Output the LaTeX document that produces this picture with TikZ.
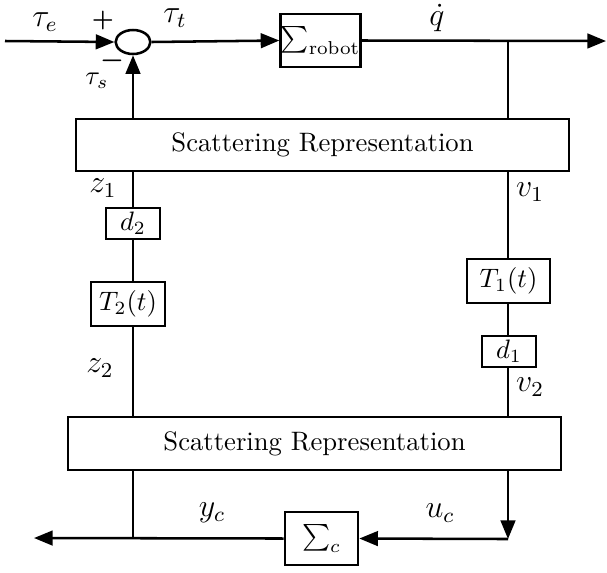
\documentclass[tikz,border=0pt]{standalone}
\usepackage{amsmath,amssymb}
\usepackage{tikz}
\usetikzlibrary{arrows.meta,shapes.geometric}
\tikzset{
  sarrow/.style={-{Triangle[length=7pt,width=5.5pt]}, line width=0.95pt},
  sline/.style={line width=0.95pt},
  blk/.style={draw, line width=0.95pt, inner sep=0pt, minimum width=#1},
  lbl/.style={font=\large, inner sep=0pt}
}
\begin{document}
\begin{tikzpicture}[x=0.375pt, y=-0.375pt]
    \useasboundingbox (0,0) rectangle (607,572);
    % blocks
    \node[ellipse, draw, line width=0.95pt, inner sep=0pt, minimum width=13pt, minimum height=9pt] (sum) at (133,42) {};
    \node[blk=28.1pt, minimum height=19.9pt] (robot) at (320.5,40.5) {$\sum_{\mathrm{robot}}$};
    \node[blk=184.9pt, minimum height=19.5pt] (scatup) at (322.5,145) {Scattering Representation};
    \node[blk=20.25pt, minimum height=11.6pt] (dtwo) at (133,223.5) {$d_2$};
    \node[blk=27.75pt, minimum height=16.5pt] (Ttwo) at (128,304) {$T_2(t)$};
    \node[blk=31.1pt, minimum height=16.5pt] (Tone) at (508.5,281) {$T_1(t)$};
    \node[blk=20.25pt, minimum height=11.6pt] (done) at (509,351.5) {$d_1$};
    \node[blk=184.9pt, minimum height=19.9pt] (scatdown) at (314.5,443.5) {Scattering Representation};
    \node[blk=27.4pt, minimum height=19.9pt] (ctrl) at (321.5,538.5) {$\sum_{c}$};
    % free ends
    \coordinate (in) at (5,41);
    \coordinate (out) at (606,41);
    \coordinate (qbr) at (508,41);
    \coordinate (ybr) at (133,538);
    \coordinate (yout) at (34,538);
    \coordinate (ucorner) at (508,539);
    % top loop
    \draw[sarrow] (in) -- (sum.west);
    \draw[sarrow] (sum.east) -- (robot.west);
    \draw[sarrow] (robot.east) -- (out);
    \draw[sline] (qbr) -- (qbr |- scatup.north);
    \draw[sarrow] (sum.south |- scatup.north) -- (sum.south);
    % left channel
    \draw[sline] (dtwo.north |- scatup.south) -- (dtwo.north);
    \draw[sline] (dtwo.south) -- (dtwo.south |- Ttwo.north);
    \draw[sline] (dtwo.south |- Ttwo.south) -- (dtwo.south |- scatdown.north);
    % right channel
    \draw[sline] (qbr |- scatup.south) -- (qbr |- Tone.north);
    \draw[sline] (qbr |- Tone.south) -- (qbr |- done.north);
    \draw[sline] (qbr |- done.south) -- (qbr |- scatdown.north);
    % controller side
    \draw[sarrow] (qbr |- scatdown.south) -- (ucorner);
    \draw[sarrow] (ucorner) -- (ctrl.east);
    \draw[sarrow] (ctrl.west) -- (yout);
    \draw[sline] (ybr) -- (ybr |- scatdown.south);
    % labels
    \node[lbl] (taue) at (45,22) {$\tau_e$};
    \node[inner sep=0pt, font=\small] (plus) at (103,20) {\textbf{+}};
    \node[inner sep=0pt] (minus) at (112,61) {$\boldsymbol{-}$};
    \node[inner sep=0pt] (taus) at (97,81) {$\tau_s$};
    \node[lbl] (taut) at (175,18) {$\tau_t$};
    \node[lbl] (qdot) at (437,18) {$\dot{q}$};
    \node[lbl] (zone) at (103,188) {$z_1$};
    \node[lbl] (vone) at (530,192) {$v_1$};
    \node[lbl] (ztwo) at (100,368) {$z_2$};
    \node[lbl] (vtwo) at (530,387) {$v_2$};
    \node[lbl] (yc) at (212,513) {$y_c$};
    \node[lbl] (uc) at (440,513) {$u_c$};
  \end{tikzpicture}
\end{document}
